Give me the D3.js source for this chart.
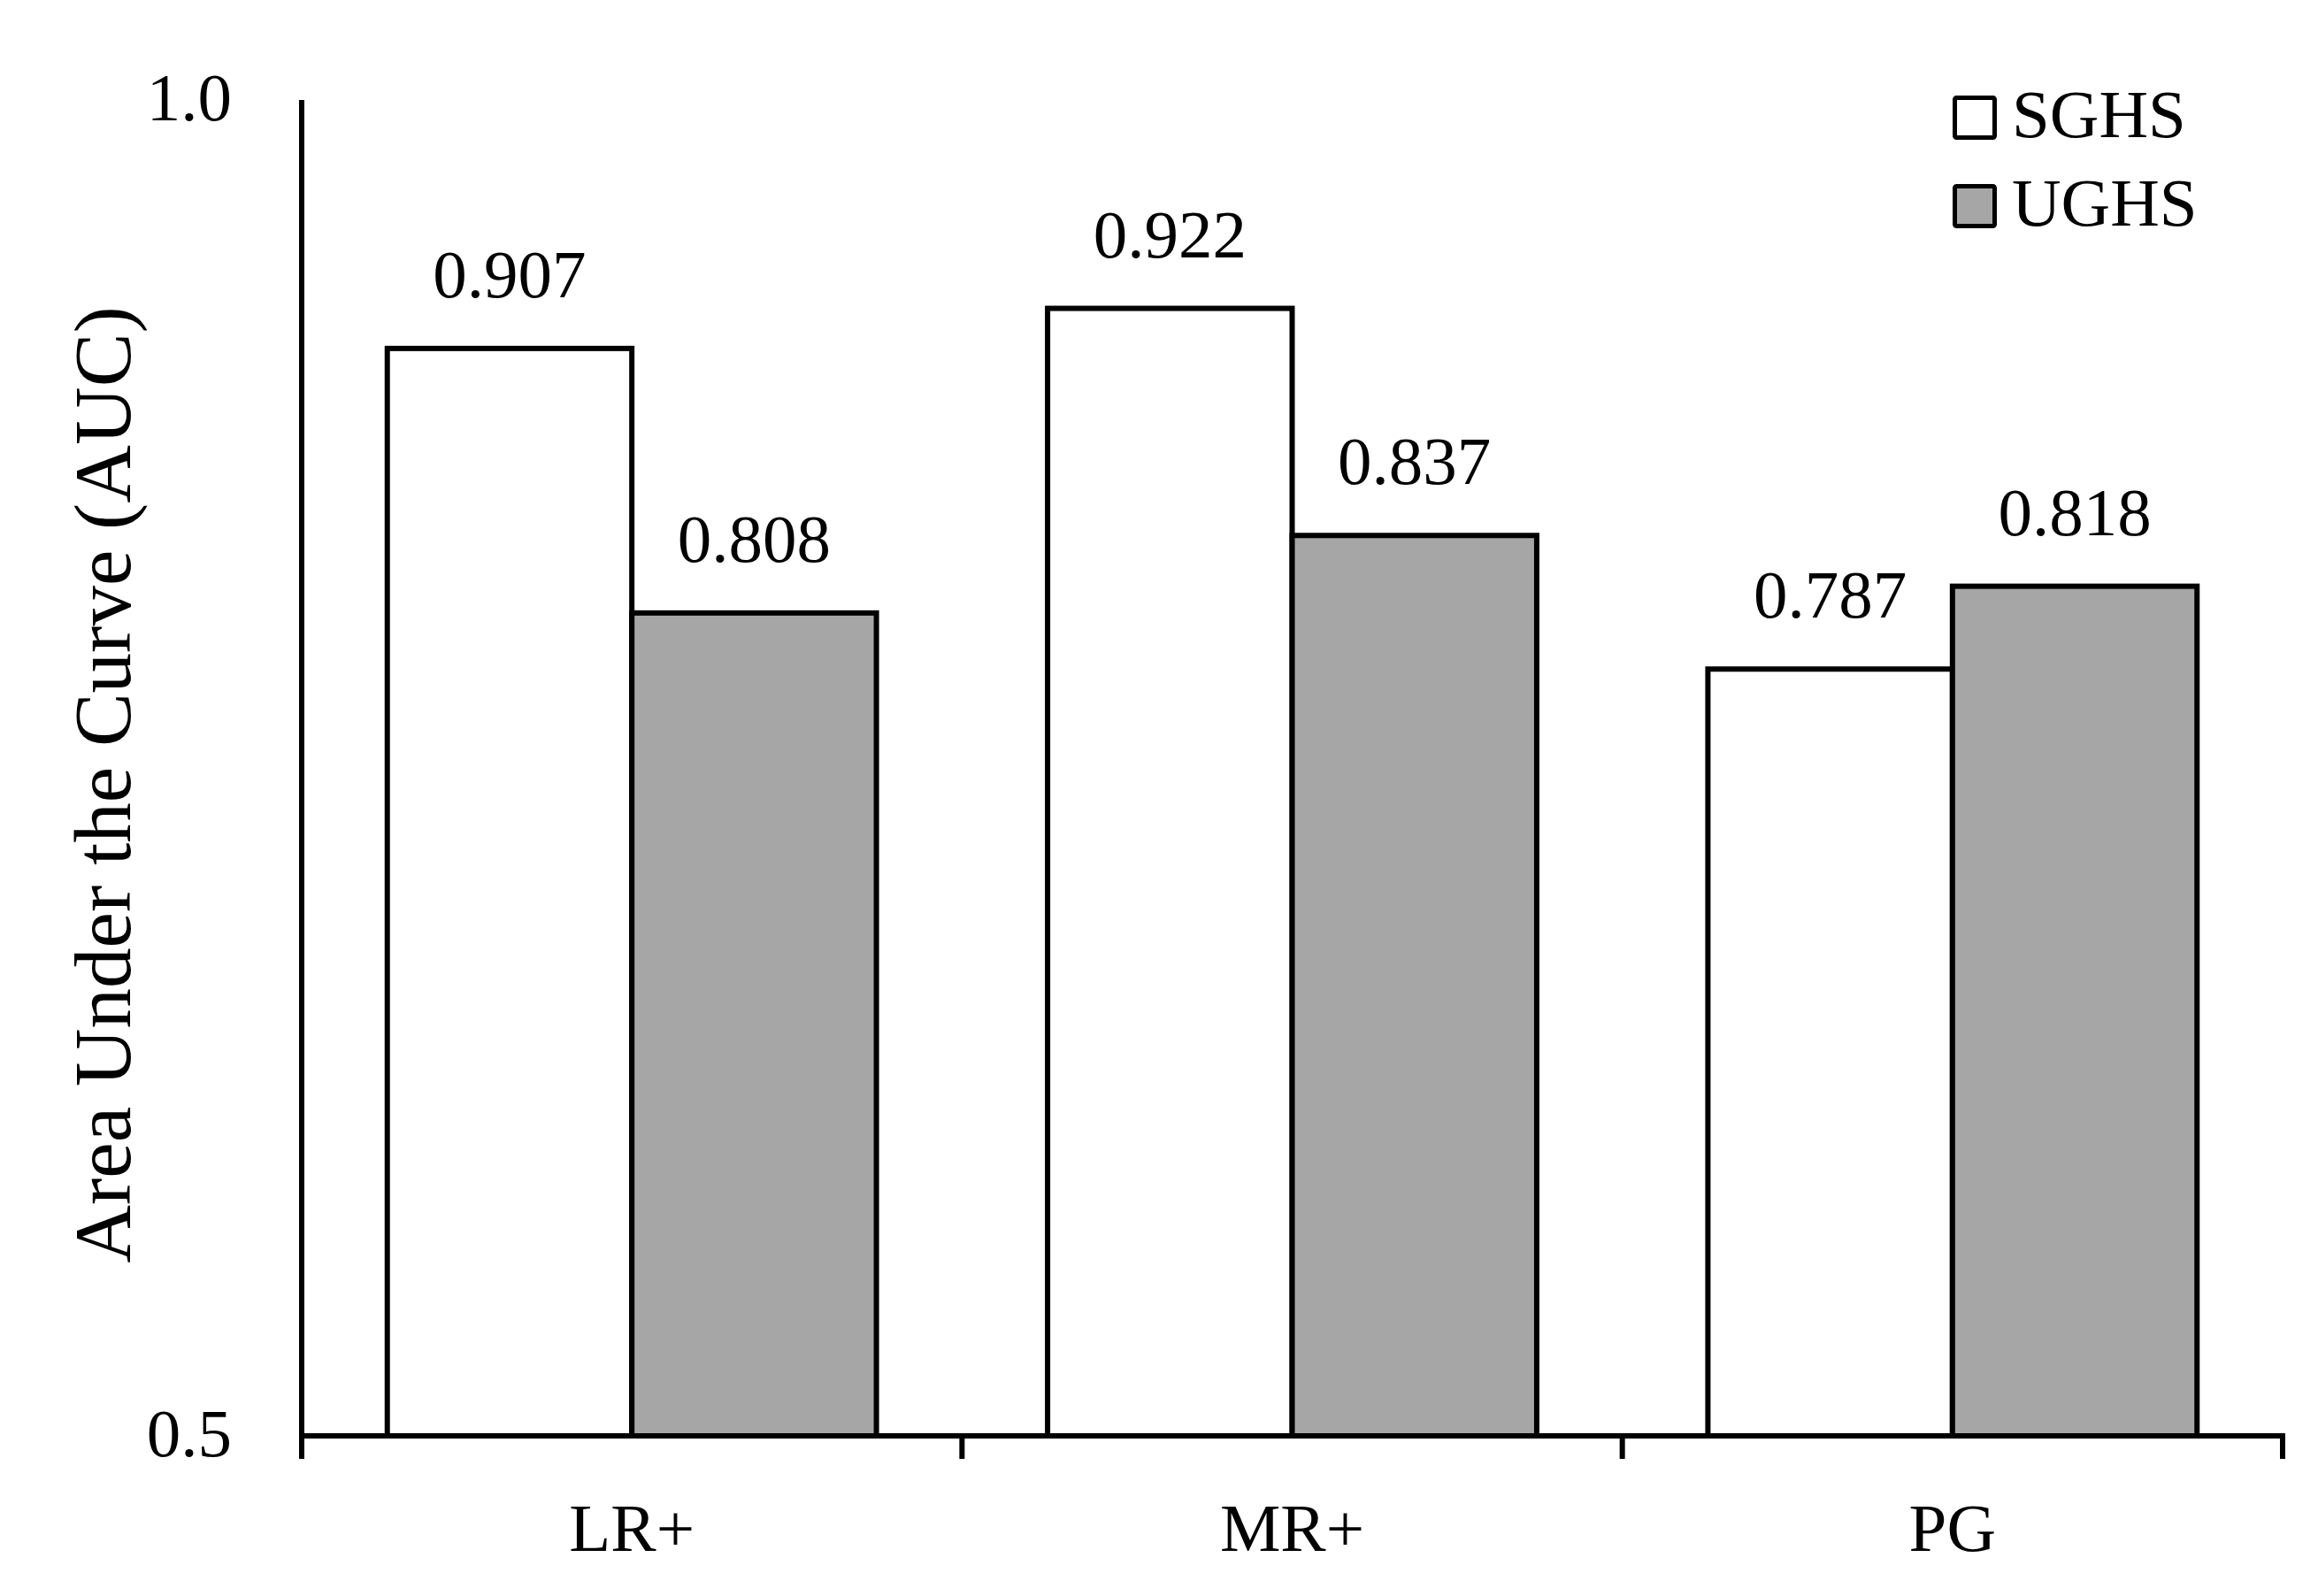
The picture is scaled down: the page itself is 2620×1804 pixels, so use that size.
<!DOCTYPE html>
<html>
<head>
<meta charset="utf-8">
<script src="https://cdn.jsdelivr.net/npm/d3@7"></script>
<style>
  html, body { margin: 0; padding: 0; background: #ffffff; }
  svg { display: block; }
  text { font-family: "Liberation Serif", "Times New Roman", serif; fill: #000; }
</style>
</head>
<body>
<script>
const categories = ["LR+", "MR+", "PG"];
const seriesNames = ["SGHS", "UGHS"];
const sghsValues = [0.907, 0.922, 0.787];
const ughsValues = [0.808, 0.837, 0.818];
const yTickValues = [0.5, 1.0];
const yTickLabels = ["0.5", "1.0"];
const yTitle = "Area Under the Curve (AUC)";
const seriesFill = ["#ffffff", "#a6a6a6"];

const W = 2620, H = 1804;
const svg = d3.select("body").append("svg").attr("width", W).attr("height", H);

const x = d3.scaleBand().domain(categories).range([341, 2580]).padding(0);
const x1 = d3.scaleBand().domain(seriesNames).range([0, x.bandwidth()]).paddingInner(0).paddingOuter(0.35);
const y = d3.scaleLinear().domain([0.5, 1.0]).range([1623, 113]);

const seriesValues = [sghsValues, ughsValues];
const rows = [];
categories.forEach((c, i) => {
  seriesNames.forEach((s, j) => rows.push({ cat: c, ser: s, val: seriesValues[j][i], fill: seriesFill[j] }));
});

// bars
svg.append("g").selectAll("rect").data(rows).join("rect")
  .attr("x", d => x(d.cat) + x1(d.ser))
  .attr("y", d => y(d.val))
  .attr("width", x1.bandwidth())
  .attr("height", d => y(0.5) - y(d.val))
  .attr("fill", d => d.fill)
  .attr("stroke", "#000")
  .attr("stroke-width", 6);

// value labels
svg.append("g").selectAll("text").data(rows).join("text")
  .attr("x", d => x(d.cat) + x1(d.ser) + x1.bandwidth() / 2)
  .attr("y", d => y(d.val) - 58)
  .attr("text-anchor", "middle")
  .attr("font-size", 77)
  .text(d => d.val.toFixed(3));

// y axis line (no ticks)
svg.append("line")
  .attr("x1", x.range()[0]).attr("x2", x.range()[0])
  .attr("y1", y(1.0)).attr("y2", y(0.5))
  .attr("stroke", "#000").attr("stroke-width", 6);

// y tick labels
svg.append("g").selectAll("text").data(yTickValues).join("text")
  .attr("x", 262)
  .attr("y", d => y(d) + 23)
  .attr("text-anchor", "end")
  .attr("font-size", 77)
  .text((d, i) => yTickLabels[i]);

// x axis line
svg.append("line")
  .attr("x1", x.range()[0] - 3).attr("x2", x.range()[1] + 3)
  .attr("y1", y(0.5)).attr("y2", y(0.5))
  .attr("stroke", "#000").attr("stroke-width", 6);

// x ticks at category boundaries
const boundaries = categories.map(c => x(c)).concat([x.range()[1]]);
svg.append("g").selectAll("line").data(boundaries).join("line")
  .attr("x1", d => d).attr("x2", d => d)
  .attr("y1", y(0.5)).attr("y2", y(0.5) + 26)
  .attr("stroke", "#000").attr("stroke-width", 6);

// category labels
svg.append("g").selectAll("text").data(categories).join("text")
  .attr("x", d => x(d) + x.bandwidth() / 2)
  .attr("y", 1753)
  .attr("text-anchor", "middle")
  .attr("font-size", 77)
  .text(d => d);

// y title
svg.append("text")
  .attr("transform", "translate(147,887) rotate(-90)")
  .attr("text-anchor", "middle")
  .attr("font-size", 91)
  .text(yTitle);

// legend
const legend = svg.append("g").selectAll("g").data(seriesNames).join("g")
  .attr("transform", (d, i) => `translate(0, ${i * 100})`);
legend.append("rect")
  .attr("x", 2209.5).attr("y", 110.5)
  .attr("width", 45).attr("height", 45)
  .attr("fill", (d, i) => seriesFill[i])
  .attr("stroke", "#000").attr("stroke-width", 5)
  .attr("rx", 2);
legend.append("text")
  .attr("x", 2274).attr("y", 155)
  .attr("font-size", 77)
  .text(d => d);
</script>
</body>
</html>
